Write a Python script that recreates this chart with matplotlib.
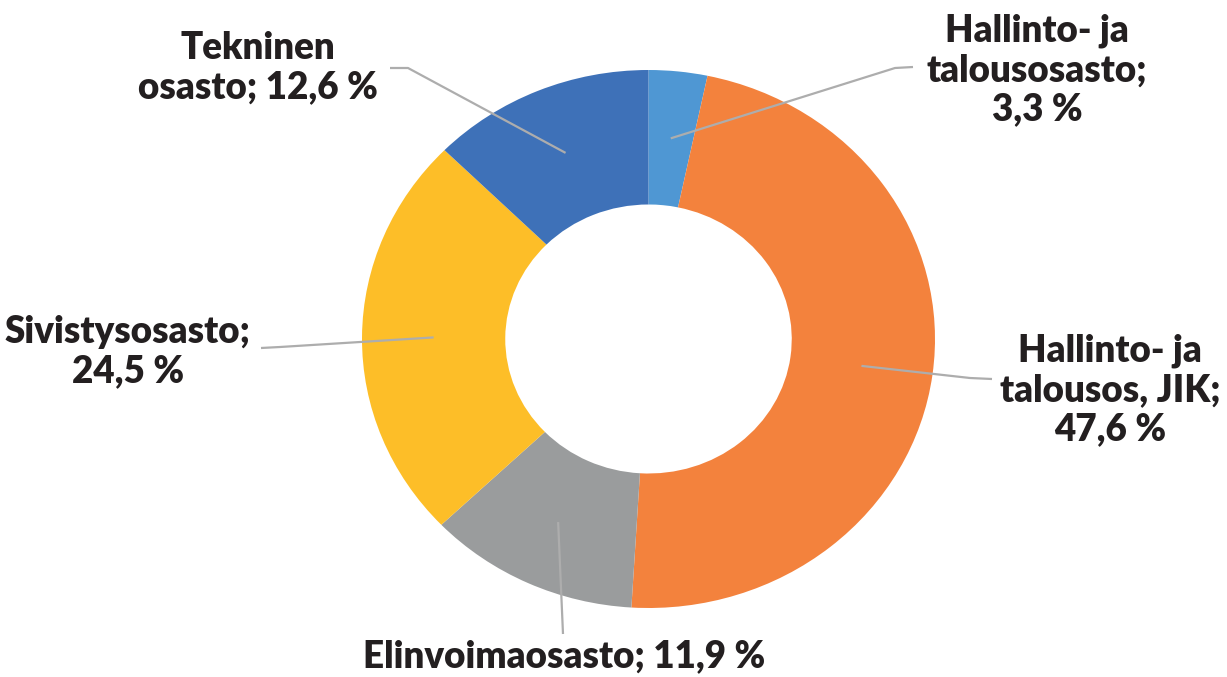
import matplotlib
matplotlib.use("Agg")
import matplotlib.pyplot as plt
import numpy as np

# ---- data ----
categories = ["Hallinto- ja\ntalousosasto;", "Hallinto- ja\ntalousos, JIK;", "Elinvoimaosasto;",
              "Sivistysosasto;", "Tekninen\nosasto;"]
values = [3.3, 47.6, 11.9, 24.5, 12.6]
value_labels = ["3,3 %", "47,6 %", "11,9 %", "24,5 %", "12,6 %"]
colors = ["#4F97D3", "#F3823D", "#9A9C9D", "#FDBE28", "#3E71B8"]

W, H = 1227, 677
fig = plt.figure(figsize=(W / 100, H / 100), dpi=100)
fig.patch.set_facecolor("white")

# ring geometry in pixels
cx, cy, rx, ry = 648.5, 339.0, 286.5, 269.0
ax = fig.add_axes([(cx - rx) / W, (H - (cy + ry)) / H, 2 * rx / W, 2 * ry / H])
wedges, _ = ax.pie(values, colors=colors, startangle=90, counterclock=False,
                   radius=1.0, wedgeprops=dict(width=0.5, linewidth=0))
ax.set_aspect("auto")
ax.set_xlim(-1, 1)
ax.set_ylim(-1, 1)
ax.axis("off")


def px2data(px, py):
    return (px - cx) / rx, (cy - py) / ry


layout = [
    dict(text_xy=(1037, 70), path=[(895, 68), (913, 67)], sep="\n"),
    dict(text_xy=(1110, 390), path=[(970, 378), (992, 379)], sep="\n"),
    dict(text_xy=(564, 656), path=[(563, 634)], sep=" "),
    dict(text_xy=(128, 352), path=[(280, 347), (261, 348)], sep="\n"),
    dict(text_xy=(258, 68), path=[(408, 68), (390, 68)], sep=" "),
]

font = dict(family=["Lato", "DejaVu Sans"], fontsize=26.5, fontweight="heavy", color="#231F20")
line_col = "#ADADAD"

for w, cat, vl, lay in zip(wedges, categories, value_labels, layout):
    mid = np.deg2rad((w.theta1 + w.theta2) / 2)
    sx, sy = 0.75 * np.cos(mid), 0.75 * np.sin(mid)
    pts = [(sx, sy)] + [px2data(*p) for p in lay["path"]]
    xs, ys = zip(*pts)
    ax.plot(xs, ys, color=line_col, lw=1.6, solid_capstyle="butt", clip_on=False)
    tx, ty = px2data(*lay["text_xy"])
    ax.text(tx, ty, cat + lay["sep"] + vl, ha="center", va="center",
            multialignment="center", linespacing=1.18, clip_on=False, **font)

fig.savefig("out.png", dpi=100, facecolor="white")
